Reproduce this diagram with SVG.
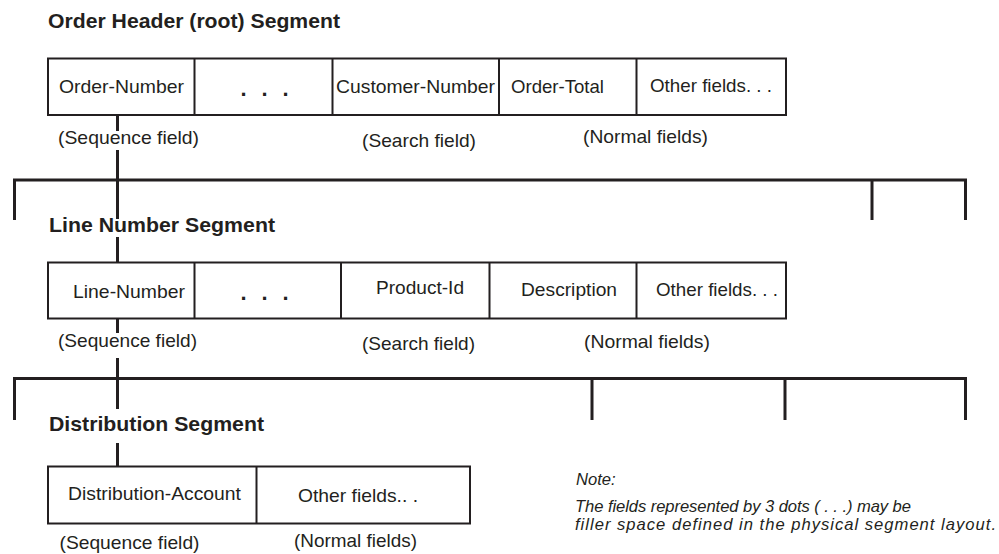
<svg xmlns="http://www.w3.org/2000/svg" width="999" height="554" viewBox="0 0 999 554">
  <style>
    .box { fill: #fff; stroke: #231f20; stroke-width: 2; }
    .div { stroke: #231f20; stroke-width: 2; }
    .bus { fill: none; stroke: #231f20; stroke-width: 3; }
    .title { font-family: "Liberation Sans", Arial, sans-serif; font-weight: bold; font-size: 20.5px; fill: #231f20; }
    .f { font-family: "Liberation Sans", Arial, sans-serif; font-size: 18.5px; fill: #231f20; }
    .dots { font-family: "Liberation Sans", Arial, sans-serif; font-weight: bold; font-size: 22px; fill: #231f20; }
    .note { font-family: "Liberation Sans", Arial, sans-serif; font-style: italic; font-size: 16.6px; fill: #231f20; }
  </style>
  <rect width="999" height="554" fill="#fff"/>

  <!-- connectors: parent-child links and sibling buses -->
  <g id="connectors" class="bus">
    <path d="M117.5 115 V131 M117.5 150 V180"/>
    <path d="M14.5 220 V180 H965.5 V220 M872 180 V220"/>
    <path d="M117.5 180 V219 M117.5 237 V262"/>
    <path d="M117.5 318 V333 M117.5 358 V378.5"/>
    <path d="M14.5 420 V378.5 H965.5 V420 M592 378.5 V420 M785 378.5 V420"/>
    <path d="M117.5 378.5 V409 M117.5 443 V466"/>
  </g>

  <!-- Order Header (root) segment -->
  <g id="order-header">
    <text class="title" x="48" y="28" textLength="292" lengthAdjust="spacingAndGlyphs">Order Header (root) Segment</text>
    <rect class="box" x="48" y="58.5" width="738" height="56.5"/>
    <path class="div" d="M194.5 58.5 V115 M332.5 58.5 V115 M499 58.5 V115 M636.5 58.5 V115"/>
    <text class="f" x="59" y="93" textLength="125" lengthAdjust="spacingAndGlyphs">Order-Number</text>
    <text class="dots" x="240.5 261.5 282.5" y="96">...</text>
    <text class="f" x="336" y="93" textLength="159" lengthAdjust="spacingAndGlyphs">Customer-Number</text>
    <text class="f" x="511" y="93" textLength="93" lengthAdjust="spacingAndGlyphs">Order-Total</text>
    <text class="f" x="650" y="91.5" textLength="122" lengthAdjust="spacingAndGlyphs">Other fields. . .</text>
    <text class="f" x="58" y="143.5" textLength="141" lengthAdjust="spacingAndGlyphs">(Sequence field)</text>
    <text class="f" x="362" y="146.5" textLength="114" lengthAdjust="spacingAndGlyphs">(Search field)</text>
    <text class="f" x="583" y="143" textLength="125" lengthAdjust="spacingAndGlyphs">(Normal fields)</text>
  </g>

  <!-- Line Number segment -->
  <g id="line-number">
    <text class="title" x="49" y="232" textLength="226" lengthAdjust="spacingAndGlyphs">Line Number Segment</text>
    <rect class="box" x="48" y="262.5" width="738" height="56"/>
    <path class="div" d="M194.5 262.5 V318.5 M341 262.5 V318.5 M489.5 262.5 V318.5 M636.5 262.5 V318.5"/>
    <text class="f" x="73" y="298" textLength="112" lengthAdjust="spacingAndGlyphs">Line-Number</text>
    <text class="dots" x="240.5 261.5 282.5" y="300">...</text>
    <text class="f" x="376" y="293.5" textLength="88" lengthAdjust="spacingAndGlyphs">Product-Id</text>
    <text class="f" x="521" y="296" textLength="96" lengthAdjust="spacingAndGlyphs">Description</text>
    <text class="f" x="656" y="296" textLength="122" lengthAdjust="spacingAndGlyphs">Other fields. . .</text>
    <text class="f" x="58" y="347" textLength="139" lengthAdjust="spacingAndGlyphs">(Sequence field)</text>
    <text class="f" x="362" y="350" textLength="113" lengthAdjust="spacingAndGlyphs">(Search field)</text>
    <text class="f" x="584" y="347.5" textLength="126" lengthAdjust="spacingAndGlyphs">(Normal fields)</text>
  </g>

  <!-- Distribution segment -->
  <g id="distribution">
    <text class="title" x="49" y="430.5" textLength="215" lengthAdjust="spacingAndGlyphs">Distribution Segment</text>
    <rect class="box" x="48" y="466.5" width="422" height="57"/>
    <path class="div" d="M256.5 466.5 V523.5"/>
    <text class="f" x="68" y="499.5" textLength="173" lengthAdjust="spacingAndGlyphs">Distribution-Account</text>
    <text class="f" x="298" y="501.5" textLength="120" lengthAdjust="spacingAndGlyphs">Other fields.. .</text>
    <text class="f" x="59.5" y="549" textLength="140" lengthAdjust="spacingAndGlyphs">(Sequence field)</text>
    <text class="f" x="294" y="547" textLength="123" lengthAdjust="spacingAndGlyphs">(Normal fields)</text>
  </g>

  <!-- note -->
  <g id="note">
    <text class="note" x="576" y="485">Note:</text>
    <text class="note" x="575" y="511.5" textLength="336" lengthAdjust="spacing">The fields represented by 3 dots ( . . .) may be</text>
    <text class="note" x="575" y="529.5" textLength="421" lengthAdjust="spacing">filler space defined in the physical segment layout.</text>
  </g>
</svg>
